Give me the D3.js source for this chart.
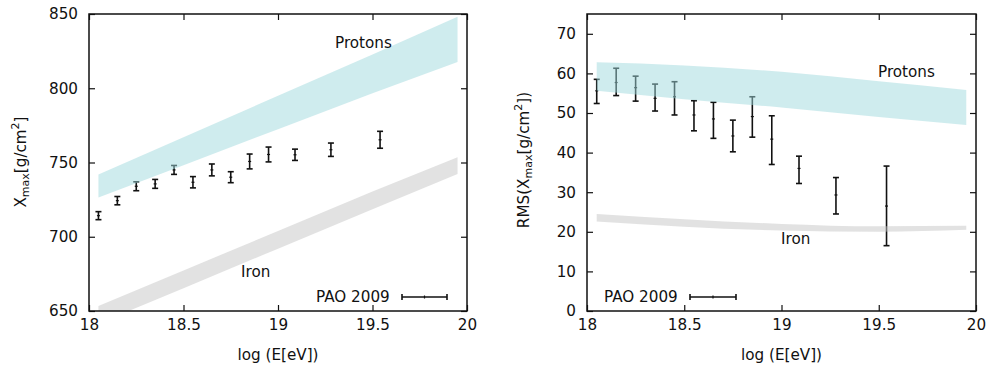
<!DOCTYPE html>
<html><head><meta charset="utf-8">
<script src="https://cdn.jsdelivr.net/npm/d3@7"></script>
<style>
body{margin:0;background:#fff;}
svg{display:block;font-family:"DejaVu Sans",Verdana,sans-serif;}
</style></head>
<body>
<svg id="c" width="989" height="370"></svg>
<script>
// ---------- data ----------
const logE = [18.05,18.15,18.25,18.35,18.45,18.55,18.65,18.75,18.85,18.95,19.09,19.28,19.54];
const xmaxVal = [714.2,724.3,734.0,735.6,745.0,736.7,745.0,740.1,750.7,755.4,755.2,758.6,765.3];
const xmaxErr = [2.7,2.8,3.0,3.0,3.0,3.8,4.0,3.7,5.0,5.0,3.8,4.5,5.7];
const rmsVal = [55.6,57.7,56.4,53.7,54.1,49.5,48.5,44.2,49.1,43.4,36.0,29.3,26.5];
const rmsHi  = [58.5,61.3,59.3,57.3,57.9,53.1,52.7,48.2,54.1,49.3,39.1,33.7,36.6];
const rmsLo  = [52.4,54.4,53.0,50.5,49.5,45.5,43.6,40.2,43.9,37.0,32.2,24.5,16.5];

const bandX = [18.05,18.5,19.0,19.5,19.95];
const xmaxProtonLo = [726.4,748.2,772.4,796.6,817.6];
const xmaxProtonHi = [741.9,767.0,794.9,822.8,848.2];
const xmaxIronLo = [641.5,665.4,692.0,718.6,742.3];
const xmaxIronHi = [653.4,677.3,703.9,730.5,753.6];
const rmsProtonLo = [55.6,53.5,51.4,49.0,47.0];
const rmsProtonHi = [62.8,62.0,60.4,58.0,55.8];
const rmsIronLo = [22.6,21.3,20.3,20.0,20.5];
const rmsIronHi = [24.5,23.2,22.0,21.4,21.5];

const xTicks = [18,18.5,19,19.5,20];
const xmaxTicks = [650,700,750,800,850];
const rmsTicks = [0,10,20,30,40,50,60,70];

// ---------- drawing ----------
const svg = d3.select("#c");
const FS = 15.2;
const SUB = 11;

function panel(opt){
  const x = d3.scaleLinear().domain([18,20]).range([opt.x0,opt.x1]);
  const y = d3.scaleLinear().domain(opt.ydom).range([311,14]);
  const g = svg.append("g");
  const cid = "clip"+opt.id;
  svg.append("defs").append("clipPath").attr("id",cid)
    .append("rect").attr("x",opt.x0).attr("y",14).attr("width",opt.x1-opt.x0).attr("height",297);

  // error bars
  const eb = g.append("g").attr("stroke","#111").attr("stroke-width",1.6);
  logE.forEach((e,i)=>{
    const cx = x(e), yh = y(opt.hi[i]), yl = y(opt.lo[i]), yc = y(opt.val[i]);
    eb.append("line").attr("x1",cx).attr("x2",cx).attr("y1",yh).attr("y2",yl);
    eb.append("line").attr("x1",cx-3).attr("x2",cx+3).attr("y1",yh).attr("y2",yh);
    eb.append("line").attr("x1",cx-3).attr("x2",cx+3).attr("y1",yl).attr("y2",yl);
    eb.append("line").attr("x1",cx-1.5).attr("x2",cx+1.5).attr("y1",yc).attr("y2",yc).attr("stroke-width",1.2);
  });

  // bands
  const area = (lo,hi)=>d3.area().x((d,i)=>x(bandX[i])).y0((d,i)=>y(lo[i])).y1((d,i)=>y(hi[i])).curve(opt.curve)(bandX);
  const bg = g.append("g").attr("clip-path",`url(#${cid})`);
  bg.append("path").attr("d",area(opt.pLo,opt.pHi)).attr("fill","#a0d9de").attr("fill-opacity",0.5);
  bg.append("path").attr("d",area(opt.fLo,opt.fHi)).attr("fill","#c6c6c6").attr("fill-opacity",0.5);

  // axes (gnuplot-like inward ticks, mirrored)
  const tl = 6;
  const ax = g.append("g");
  ax.append("g").attr("transform","translate(0,311)")
    .call(d3.axisBottom(x).tickValues(xTicks).tickSize(-tl).tickPadding(8).tickFormat(d3.format("")));
  ax.append("g").attr("transform","translate(0,14)")
    .call(d3.axisTop(x).tickValues(xTicks).tickSize(-tl).tickFormat(""));
  ax.append("g").attr("transform",`translate(${opt.x0},0)`)
    .call(d3.axisLeft(y).tickValues(opt.yticks).tickSize(-tl).tickPadding(11).tickFormat(d3.format("")));
  ax.append("g").attr("transform",`translate(${opt.x1},0)`)
    .call(d3.axisRight(y).tickValues(opt.yticks).tickSize(-tl).tickFormat(""));
  ax.selectAll(".domain").remove();
  ax.selectAll(".tick line").attr("stroke","#111").attr("stroke-width",1.2);
  ax.selectAll(".tick text").attr("font-size",FS).attr("fill","#111").attr("font-family","DejaVu Sans, sans-serif");
  g.append("rect").attr("x",opt.x0).attr("y",14).attr("width",opt.x1-opt.x0).attr("height",297)
    .attr("fill","none").attr("stroke","#111").attr("stroke-width",1.5);

  // labels
  const t = (tx,ty,s,anchor)=>g.append("text").attr("x",tx).attr("y",ty).attr("font-size",FS)
    .attr("fill","#111").attr("text-anchor",anchor||"start").attr("dominant-baseline","central").text(s);
  t(opt.protonLbl[0],opt.protonLbl[1],"Protons");
  t(opt.ironLbl[0],opt.ironLbl[1],"Iron");
  t(opt.legText[0],opt.legText[1],"PAO 2009");
  const lx0 = opt.legLine[0], lx1 = opt.legLine[1], ly = opt.legLine[2];
  const lg = g.append("g").attr("stroke","#111").attr("stroke-width",1.6);
  lg.append("line").attr("x1",lx0).attr("x2",lx1).attr("y1",ly).attr("y2",ly);
  lg.append("line").attr("x1",lx0).attr("x2",lx0).attr("y1",ly-3).attr("y2",ly+3);
  lg.append("line").attr("x1",lx1).attr("x2",lx1).attr("y1",ly-3).attr("y2",ly+3);
  lg.append("line").attr("x1",(lx0+lx1)/2).attr("x2",(lx0+lx1)/2).attr("y1",ly-1.5).attr("y2",ly+1.5).attr("stroke-width",1.2);

  // axis titles
  g.append("text").attr("x",(opt.x0+opt.x1)/2).attr("y",355).attr("text-anchor","middle")
    .attr("dominant-baseline","central").attr("font-size",FS).attr("fill","#111").text("log (E[eV])");
  const yt = g.append("text").attr("transform",`translate(${opt.ytx},${opt.yty}) rotate(-90)`)
    .attr("text-anchor","middle").attr("dominant-baseline","central").attr("font-size",FS).attr("fill","#111");
  opt.ytitle(yt);
}

panel({
  id:"L", x0:89, x1:467, ydom:[650,850], yticks:xmaxTicks, curve:d3.curveLinear,
  val:xmaxVal, hi:xmaxVal.map((v,i)=>v+xmaxErr[i]), lo:xmaxVal.map((v,i)=>v-xmaxErr[i]),
  pLo:xmaxProtonLo, pHi:xmaxProtonHi, fLo:xmaxIronLo, fHi:xmaxIronHi,
  protonLbl:[335,43], ironLbl:[241,272], legText:[316,297], legLine:[402,447,297],
  ytx:21, yty:162,
  ytitle: t=>{ t.append("tspan").text("X");
    t.append("tspan").attr("font-size",SUB).attr("dy",4).text("max");
    t.append("tspan").attr("dy",-4).text("[g/cm");
    t.append("tspan").attr("font-size",SUB).attr("dy",-6).text("2");
    t.append("tspan").attr("dy",6).text("]"); }
});
panel({
  id:"R", x0:587, x1:976, ydom:[0,75], yticks:rmsTicks, curve:d3.curveMonotoneX,
  val:rmsVal, hi:rmsHi, lo:rmsLo,
  pLo:rmsProtonLo, pHi:rmsProtonHi, fLo:rmsIronLo, fHi:rmsIronHi,
  protonLbl:[878,72], ironLbl:[781,239], legText:[604,297], legLine:[690,736,297],
  ytx:524, yty:160,
  ytitle: t=>{ t.append("tspan").text("RMS(X");
    t.append("tspan").attr("font-size",SUB).attr("dy",4).text("max");
    t.append("tspan").attr("dy",-4).text("[g/cm");
    t.append("tspan").attr("font-size",SUB).attr("dy",-6).text("2");
    t.append("tspan").attr("dy",6).text("])"); }
});
</script>
</body></html>
